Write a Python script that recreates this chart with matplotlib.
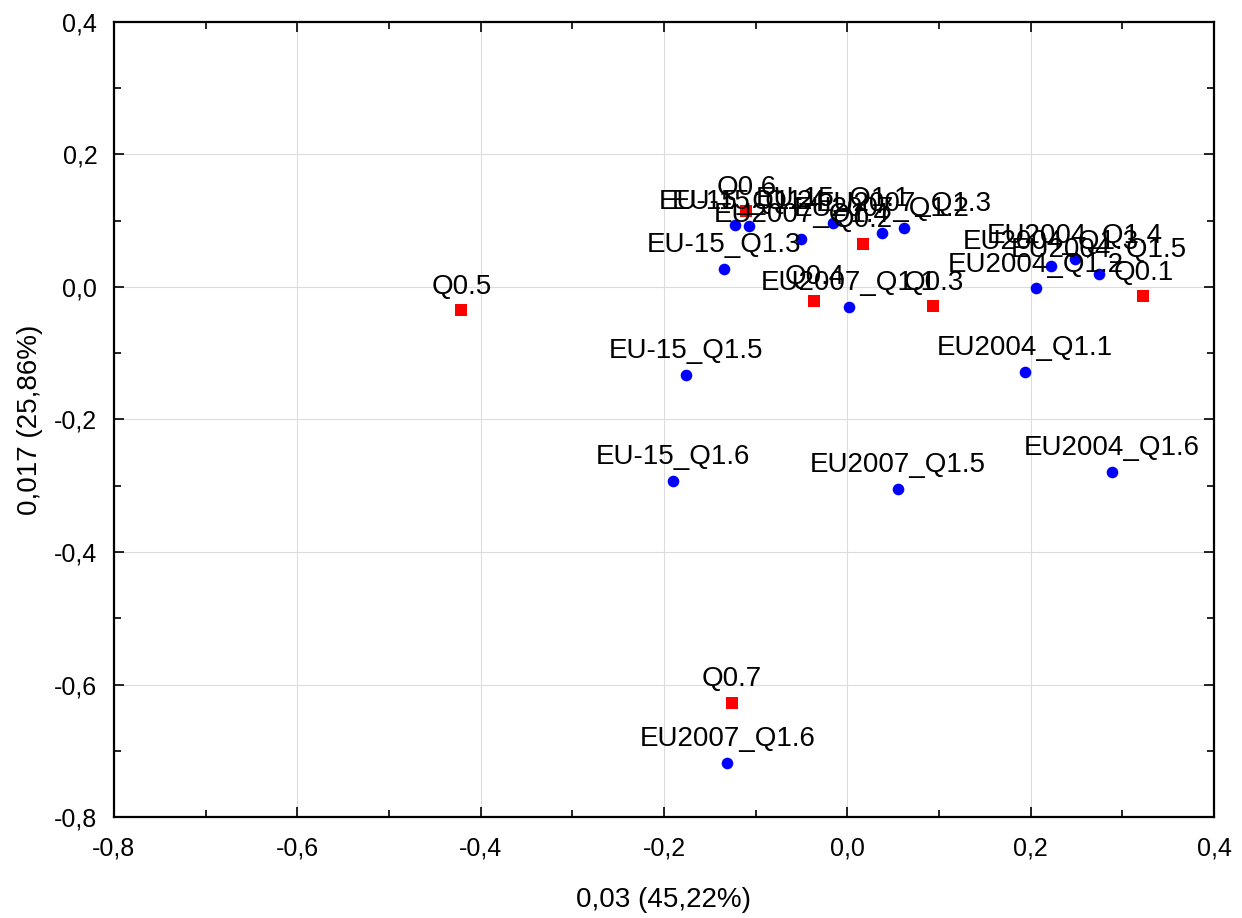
import matplotlib
matplotlib.use("Agg")
import matplotlib.pyplot as plt
from matplotlib.ticker import MultipleLocator, FuncFormatter

plt.rcParams['font.family'] = ['Liberation Sans', 'DejaVu Sans']

# Blue points (row categories)
row_labels = ["EU-15_Q1.1", "EU-15_Q1.2", "EU-15_Q1.3", "EU-15_Q1.4", "EU-15_Q1.5", "EU-15_Q1.6",
              "EU2004_Q1.1", "EU2004_Q1.2", "EU2004_Q1.3", "EU2004_Q1.4", "EU2004_Q1.5", "EU2004_Q1.6",
              "EU2007_Q1.1", "EU2007_Q1.2", "EU2007_Q1.3", "EU2007_Q1.4", "EU2007_Q1.5", "EU2007_Q1.6"]
row_x = [-0.016, -0.122, -0.134, -0.107, -0.176, -0.190,
         0.194, 0.206, 0.222, 0.248, 0.274, 0.289,
         0.002, 0.038, 0.062, -0.050, 0.055, -0.131]
row_y = [0.097, 0.093, 0.027, 0.092, -0.133, -0.293,
         -0.128, -0.002, 0.032, 0.042, 0.020, -0.279,
         -0.030, 0.082, 0.089, 0.073, -0.305, -0.718]

# Red squares (column categories)
col_labels = ["Q0.1", "Q0.2", "Q0.3", "Q0.4", "Q0.5", "Q0.6", "Q0.7"]
col_x = [0.323, 0.017, 0.094, -0.036, -0.421, -0.110, -0.126]
col_y = [-0.014, 0.065, -0.029, -0.021, -0.035, 0.114, -0.628]

x_title = "0,03 (45,22%)"
y_title = "0,017 (25,86%)"

fig = plt.figure(figsize=(12.42, 9.18), dpi=100)
ax = fig.add_axes([114/1242, 1-817/918, 1100/1242, 795/918])

ax.scatter(row_x, row_y, s=70, c="#0000ff", marker="o", zorder=3, linewidths=0)
ax.scatter(col_x, col_y, s=75, c="#ff0000", marker="s", zorder=3, linewidths=0)

for lab, x, y in zip(row_labels, row_x, row_y):
    ax.annotate(lab, (x, y), xytext=(0, 12), textcoords="offset points",
                ha="center", va="baseline", fontsize=20, zorder=4)
for lab, x, y in zip(col_labels, col_x, col_y):
    ax.annotate(lab, (x, y), xytext=(0, 12), textcoords="offset points",
                ha="center", va="baseline", fontsize=20, zorder=4)

ax.set_xlim(-0.8, 0.4)
ax.set_ylim(-0.8, 0.4)
ax.xaxis.set_major_locator(MultipleLocator(0.2))
ax.yaxis.set_major_locator(MultipleLocator(0.2))
ax.xaxis.set_minor_locator(MultipleLocator(0.1))
ax.yaxis.set_minor_locator(MultipleLocator(0.1))
fmt = FuncFormatter(lambda v, p: ("%.1f" % (0.0 if abs(v) < 1e-9 else v)).replace(".", ","))
ax.xaxis.set_major_formatter(fmt)
ax.yaxis.set_major_formatter(fmt)
ax.grid(True, which="major", color="#dcdcdc", linewidth=0.8)
ax.set_axisbelow(True)
ax.tick_params(which="both", direction="in", top=True, right=True, labelsize=18, width=1.2, color="black")
ax.tick_params(axis="x", which="major", length=7, pad=14)
ax.tick_params(axis="y", which="major", length=7, pad=12)
ax.tick_params(which="minor", length=5)
for s in ax.spines.values():
    s.set_linewidth(1.6)

fig.text(663/1242, 1-900/918, x_title, ha="center", va="center", fontsize=20)
fig.text(30/1242, 1-420/918, y_title, ha="center", va="center", fontsize=20, rotation=90)

fig.savefig("out.png", dpi=100)
